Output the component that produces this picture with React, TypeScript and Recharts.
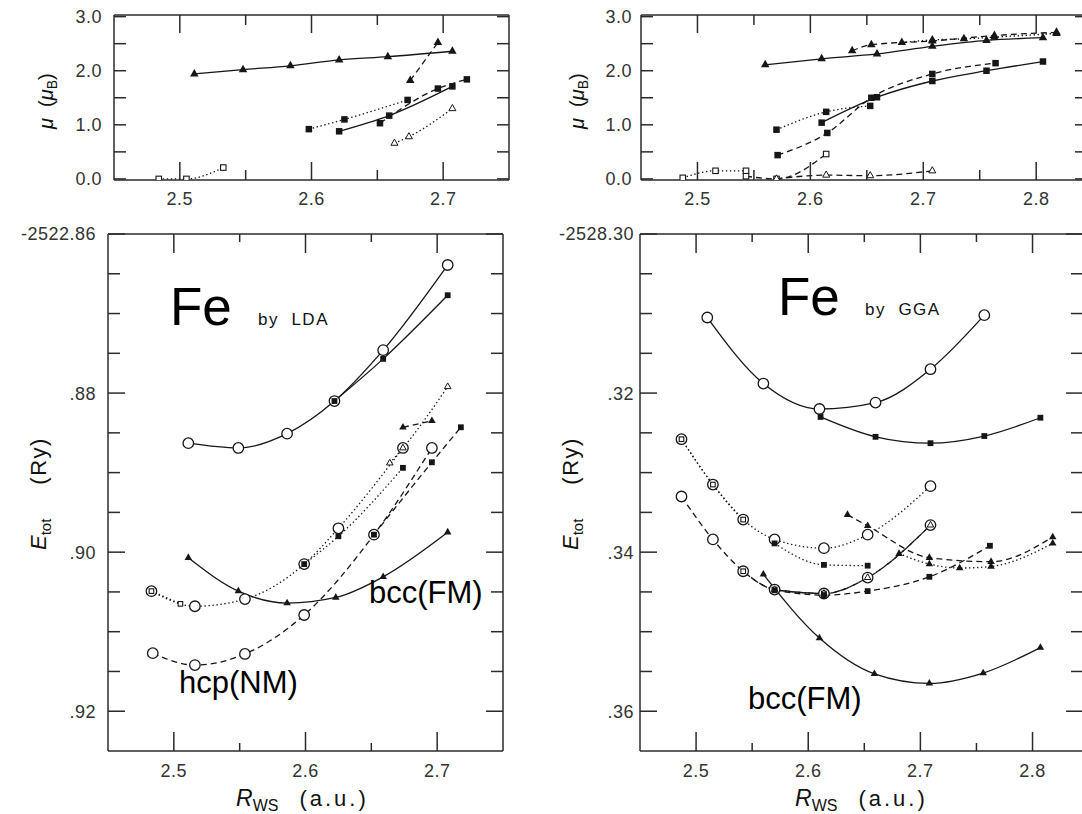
import React from 'react';
import { LineChart, Line, XAxis, YAxis } from 'recharts';

const FONT = '"Liberation Sans", Arial, Helvetica, sans-serif';
const INK = '#161616';
const FRAME = '#2b2b2b';
const TICK_TEXT = '#333';

type Pt = { x: number; y: number };
type MarkerKind = 'circle' | 'square' | 'triangle' | 'openTriangle' | 'openSquare';
type DashKind = 'solid' | 'dashed' | 'dotted';
type TickLabel = { v: number; t: string };

const pts = (rows: number[][]): Pt[] => rows.map(([x, y]) => ({ x, y }));

// ---------- axis ticks ----------
const xTicksLeft = [2.5, 2.55, 2.6, 2.65, 2.7];
const xTicksRight = [2.5, 2.55, 2.6, 2.65, 2.7, 2.75, 2.8];
const xTickLabels: TickLabel[] = [
  { v: 2.5, t: '2.5' },
  { v: 2.6, t: '2.6' },
  { v: 2.7, t: '2.7' },
  { v: 2.8, t: '2.8' },
];
const momentTicks = [0, 0.5, 1, 1.5, 2, 2.5, 3];
const momentTickLabels: TickLabel[] = [
  { v: 0, t: '0.0' },
  { v: 1, t: '1.0' },
  { v: 2, t: '2.0' },
  { v: 3, t: '3.0' },
];
const ldaEnergyTicks = [
  -2522.92, -2522.915, -2522.91, -2522.905, -2522.9, -2522.895, -2522.89,
  -2522.885, -2522.88, -2522.875, -2522.87, -2522.865, -2522.86,
];
const ldaEnergyTickLabels: TickLabel[] = [
  { v: -2522.86, t: '-2522.86' },
  { v: -2522.88, t: '.88' },
  { v: -2522.9, t: '.90' },
  { v: -2522.92, t: '.92' },
];
const ggaEnergyTicks = [
  -2528.36, -2528.355, -2528.35, -2528.345, -2528.34, -2528.335, -2528.33,
  -2528.325, -2528.32, -2528.315, -2528.31, -2528.305, -2528.3,
];
const ggaEnergyTickLabels: TickLabel[] = [
  { v: -2528.3, t: '-2528.30' },
  { v: -2528.32, t: '.32' },
  { v: -2528.34, t: '.34' },
  { v: -2528.36, t: '.36' },
];

// ---------- LDA: magnetic moment (μB) vs R_WS ----------
const ldaMomTriSolid = pts([[2.511, 1.94], [2.548, 2.02], [2.584, 2.09], [2.621, 2.2], [2.658, 2.26], [2.707, 2.36]]);
const ldaMomTriDashed = pts([[2.675, 1.82], [2.696, 2.52]]);
const ldaMomSqSolid = pts([[2.621, 0.88], [2.659, 1.17], [2.707, 1.71]]);
const ldaMomSqDashed = pts([[2.652, 1.03], [2.696, 1.67], [2.718, 1.84]]);
const ldaMomSqDotted = pts([[2.598, 0.92], [2.625, 1.1], [2.673, 1.46]]);
const ldaMomOpenTriDotted = pts([[2.663, 0.66], [2.674, 0.78], [2.707, 1.3]]);
const ldaMomOpenSqDotted = pts([[2.484, 0.0], [2.505, 0.0], [2.533, 0.21]]);

// ---------- GGA: magnetic moment (μB) vs R_WS ----------
const ggaMomTriSolid = pts([[2.56, 2.11], [2.61, 2.22], [2.659, 2.31], [2.708, 2.45], [2.756, 2.56], [2.806, 2.61]]);
const ggaMomTriDashed = pts([[2.637, 2.37], [2.654, 2.48], [2.708, 2.55], [2.763, 2.65], [2.818, 2.71]]);
const ggaMomTriDotted = pts([[2.681, 2.52], [2.708, 2.57], [2.736, 2.59], [2.763, 2.62], [2.818, 2.69]]);
const ggaMomSqSolid = pts([[2.61, 1.04], [2.659, 1.51], [2.708, 1.81], [2.756, 2.0], [2.806, 2.17]]);
const ggaMomSqDashed = pts([[2.571, 0.44], [2.615, 0.85], [2.654, 1.5], [2.708, 1.94], [2.764, 2.14]]);
const ggaMomSqDotted = pts([[2.57, 0.91], [2.614, 1.24], [2.653, 1.35]]);
const ggaMomOpenSqDotted = pts([[2.487, 0.02], [2.516, 0.15], [2.543, 0.15]]);
const ggaMomOpenSqDashed = pts([[2.543, 0.05], [2.57, 0.0], [2.614, 0.46]]);
const ggaMomOpenTriDashed = pts([[2.57, 0.0], [2.614, 0.07], [2.653, 0.06], [2.708, 0.15]]);

// ---------- LDA: total energy (Ry) vs R_WS ----------
const ldaEnCircSolid = pts([[2.511, -2522.8863], [2.549, -2522.8869], [2.586, -2522.8851], [2.622, -2522.881], [2.659, -2522.8746], [2.708, -2522.8639]]);
const ldaEnSqSolid = pts([[2.622, -2522.881], [2.659, -2522.8757], [2.708, -2522.8677]]);
const ldaEnTriSolid = pts([[2.511, -2522.9007], [2.549, -2522.9049], [2.586, -2522.9064], [2.623, -2522.9057], [2.659, -2522.9031], [2.708, -2522.8975]]);
const ldaEnCircDotted = pts([[2.483, -2522.9049], [2.516, -2522.9068], [2.554, -2522.9059], [2.599, -2522.9015], [2.625, -2522.897], [2.674, -2522.8869]]);
const ldaEnOpenSqDotted = pts([[2.483, -2522.9049], [2.505, -2522.9065]]);
const ldaEnSqDotted = pts([[2.599, -2522.9015], [2.625, -2522.898], [2.674, -2522.8894]]);
const ldaEnOpenTriDotted = pts([[2.664, -2522.8888], [2.674, -2522.8869], [2.708, -2522.8792]]);
const ldaEnCircDashed = pts([[2.484, -2522.9127], [2.516, -2522.9142], [2.554, -2522.9128], [2.599, -2522.9079], [2.652, -2522.8978], [2.696, -2522.8869]]);
const ldaEnSqDashed = pts([[2.652, -2522.8978], [2.696, -2522.8887], [2.718, -2522.8843]]);
const ldaEnTriDashed = pts([[2.674, -2522.8843], [2.696, -2522.8835]]);

// ---------- GGA: total energy (Ry) vs R_WS ----------
const ggaEnCircSolid = pts([[2.51, -2528.3105], [2.56, -2528.3188], [2.61, -2528.322], [2.66, -2528.3212], [2.709, -2528.317], [2.757, -2528.3102]]);
const ggaEnSqSolid = pts([[2.611, -2528.323], [2.66, -2528.3255], [2.709, -2528.3263], [2.757, -2528.3254], [2.807, -2528.3231]]);
const ggaEnTriSolid = pts([[2.56, -2528.3428], [2.61, -2528.3508], [2.659, -2528.3553], [2.708, -2528.3565], [2.756, -2528.3552], [2.807, -2528.352]]);
const ggaEnCircDotted = pts([[2.487, -2528.3258], [2.515, -2528.3315], [2.542, -2528.3359], [2.57, -2528.3384], [2.614, -2528.3395], [2.653, -2528.3378], [2.709, -2528.3317]]);
const ggaEnOpenSqDotted = pts([[2.487, -2528.3258], [2.515, -2528.3315], [2.542, -2528.3359]]);
const ggaEnSqDotted = pts([[2.57, -2528.3389], [2.614, -2528.3416], [2.653, -2528.3417]]);
const ggaEnCircDashed = pts([[2.487, -2528.333], [2.515, -2528.3384], [2.542, -2528.3424], [2.57, -2528.3447], [2.614, -2528.3452], [2.653, -2528.3432], [2.709, -2528.3366]]);
const ggaEnOpenSqDashed = pts([[2.542, -2528.3424], [2.57, -2528.3447], [2.614, -2528.3452]]);
const ggaEnOpenTriDashed = pts([[2.57, -2528.3447], [2.614, -2528.3452], [2.653, -2528.3432], [2.709, -2528.3366]]);
const ggaEnSqDashed = pts([[2.57, -2528.3448], [2.614, -2528.3454], [2.653, -2528.3449], [2.708, -2528.3431], [2.762, -2528.3392]]);
const ggaEnTriDashed = pts([[2.635, -2528.3353], [2.653, -2528.3367], [2.708, -2528.3407], [2.763, -2528.3412], [2.818, -2528.3381]]);
const ggaEnTriDotted = pts([[2.681, -2528.3402], [2.708, -2528.3415], [2.735, -2528.342], [2.763, -2528.3418], [2.818, -2528.3389]]);

interface SeriesDef {
  data: Pt[];
  marker: MarkerKind;
  dash: DashKind;
}

const ldaMomentSeries: SeriesDef[] = [
  { data: ldaMomTriSolid, marker: 'triangle', dash: 'solid' },
  { data: ldaMomTriDashed, marker: 'triangle', dash: 'dashed' },
  { data: ldaMomSqSolid, marker: 'square', dash: 'solid' },
  { data: ldaMomSqDashed, marker: 'square', dash: 'dashed' },
  { data: ldaMomSqDotted, marker: 'square', dash: 'dotted' },
  { data: ldaMomOpenTriDotted, marker: 'openTriangle', dash: 'dotted' },
  { data: ldaMomOpenSqDotted, marker: 'openSquare', dash: 'dotted' },
];

const ggaMomentSeries: SeriesDef[] = [
  { data: ggaMomTriSolid, marker: 'triangle', dash: 'solid' },
  { data: ggaMomTriDashed, marker: 'triangle', dash: 'dashed' },
  { data: ggaMomTriDotted, marker: 'triangle', dash: 'dotted' },
  { data: ggaMomSqSolid, marker: 'square', dash: 'solid' },
  { data: ggaMomSqDashed, marker: 'square', dash: 'dashed' },
  { data: ggaMomSqDotted, marker: 'square', dash: 'dotted' },
  { data: ggaMomOpenSqDotted, marker: 'openSquare', dash: 'dotted' },
  { data: ggaMomOpenSqDashed, marker: 'openSquare', dash: 'dashed' },
  { data: ggaMomOpenTriDashed, marker: 'openTriangle', dash: 'dashed' },
];

// circles first so the filled symbols sitting on them stay visible
const ldaEnergySeries: SeriesDef[] = [
  { data: ldaEnCircSolid, marker: 'circle', dash: 'solid' },
  { data: ldaEnCircDotted, marker: 'circle', dash: 'dotted' },
  { data: ldaEnCircDashed, marker: 'circle', dash: 'dashed' },
  { data: ldaEnSqSolid, marker: 'square', dash: 'solid' },
  { data: ldaEnTriSolid, marker: 'triangle', dash: 'solid' },
  { data: ldaEnSqDotted, marker: 'square', dash: 'dotted' },
  { data: ldaEnOpenSqDotted, marker: 'openSquare', dash: 'dotted' },
  { data: ldaEnOpenTriDotted, marker: 'openTriangle', dash: 'dotted' },
  { data: ldaEnSqDashed, marker: 'square', dash: 'dashed' },
  { data: ldaEnTriDashed, marker: 'triangle', dash: 'dashed' },
];

const ggaEnergySeries: SeriesDef[] = [
  { data: ggaEnCircSolid, marker: 'circle', dash: 'solid' },
  { data: ggaEnCircDotted, marker: 'circle', dash: 'dotted' },
  { data: ggaEnCircDashed, marker: 'circle', dash: 'dashed' },
  { data: ggaEnSqSolid, marker: 'square', dash: 'solid' },
  { data: ggaEnTriSolid, marker: 'triangle', dash: 'solid' },
  { data: ggaEnOpenSqDotted, marker: 'openSquare', dash: 'dotted' },
  { data: ggaEnSqDotted, marker: 'square', dash: 'dotted' },
  { data: ggaEnOpenSqDashed, marker: 'openSquare', dash: 'dashed' },
  { data: ggaEnOpenTriDashed, marker: 'openTriangle', dash: 'dashed' },
  { data: ggaEnSqDashed, marker: 'square', dash: 'dashed' },
  { data: ggaEnTriDashed, marker: 'triangle', dash: 'dashed' },
  { data: ggaEnTriDotted, marker: 'triangle', dash: 'dotted' },
];

const DASH: Record<DashKind, string | undefined> = {
  solid: undefined,
  dashed: '6 4',
  dotted: '1.4 2.6',
};

const topSizes: Record<MarkerKind, number> = {
  circle: 10,
  square: 6.5,
  triangle: 8.5,
  openTriangle: 7,
  openSquare: 5.5,
};
const bottomSizes: Record<MarkerKind, number> = {
  circle: 10.5,
  square: 5.8,
  triangle: 7.5,
  openTriangle: 6.5,
  openSquare: 4.6,
};

function Marker({ kind, cx, cy, size }: { kind: MarkerKind; cx: number; cy: number; size: number }) {
  if (cx == null || cy == null) return null;
  const h = size / 2;
  switch (kind) {
    case 'circle':
      return <circle cx={cx} cy={cy} r={h} fill="#fff" stroke={INK} strokeWidth={1.3} />;
    case 'square':
      return <rect x={cx - h} y={cy - h} width={size} height={size} fill={INK} />;
    case 'openSquare':
      return <rect x={cx - h} y={cy - h} width={size} height={size} fill="#fff" stroke={INK} strokeWidth={1.1} />;
    case 'triangle':
    case 'openTriangle': {
      const th = size * 0.88;
      const d = `M${cx},${cy - (th * 2) / 3} L${cx - h},${cy + th / 3} L${cx + h},${cy + th / 3} Z`;
      return kind === 'triangle' ? (
        <path d={d} fill={INK} />
      ) : (
        <path d={d} fill="#fff" stroke={INK} strokeWidth={1} />
      );
    }
    default:
      return null;
  }
}

const findLabel = (labels: TickLabel[], v: number) => labels.find((l) => Math.abs(l.v - v) < 1e-6);

interface TickStyle {
  xMajor: number;
  xMinor: number;
  yMajor: number;
  yMinor: number;
  xBase: number;
  yGap: number;
}

interface PanelProps {
  frame: { x: number; y: number; w: number; h: number };
  box: { l: number; t: number; r: number; b: number };
  xDomain: [number, number];
  yDomain: [number, number];
  xTicks: number[];
  yTicks: number[];
  xLabels: TickLabel[];
  yLabels: TickLabel[];
  series: SeriesDef[];
  tick: TickStyle;
  sizes: Record<MarkerKind, number>;
}

const tickTextStyle: React.CSSProperties = {
  fontFamily: FONT,
  fontSize: 18,
  letterSpacing: 0.5,
  fill: TICK_TEXT,
};

function Panel({ frame, box, xDomain, yDomain, xTicks, yTicks, xLabels, yLabels, series, tick, sizes }: PanelProps) {
  const pl = box.l - frame.x;
  const pt = box.t - frame.y;
  const pr = box.r - frame.x;
  const pb = box.b - frame.y;
  const margin = { left: pl - 1, top: pt - 1, right: frame.w - pr - 1, bottom: frame.h - pb - 1 };
  const line = { stroke: FRAME, strokeWidth: 1.5 };

  const bottomTick = (p: any) => {
    const lab = findLabel(xLabels, p.payload.value);
    const len = lab ? tick.xMajor : tick.xMinor;
    return (
      <g>
        <line x1={p.x} x2={p.x} y1={pb} y2={pb - len} {...line} />
        {lab && (
          <text x={p.x} y={pb + tick.xBase} textAnchor="middle" style={tickTextStyle}>
            {lab.t}
          </text>
        )}
      </g>
    );
  };
  const topTick = (p: any) => {
    const len = findLabel(xLabels, p.payload.value) ? tick.xMajor : tick.xMinor;
    return <line x1={p.x} x2={p.x} y1={pt} y2={pt + len} {...line} />;
  };
  const leftTick = (p: any) => {
    const lab = findLabel(yLabels, p.payload.value);
    const len = lab ? tick.yMajor : tick.yMinor;
    return (
      <g>
        <line x1={pl} x2={pl + len} y1={p.y} y2={p.y} {...line} />
        {lab && (
          <text x={pl - tick.yGap} y={p.y} dy="0.36em" textAnchor="end" style={tickTextStyle}>
            {lab.t}
          </text>
        )}
      </g>
    );
  };
  const rightTick = (p: any) => {
    const len = findLabel(yLabels, p.payload.value) ? tick.yMajor : tick.yMinor;
    return <line x1={pr} x2={pr - len} y1={p.y} y2={p.y} {...line} />;
  };

  return (
    <div style={{ position: 'absolute', left: frame.x, top: frame.y }}>
      <LineChart width={frame.w} height={frame.h} margin={margin}>
        <XAxis
          xAxisId="b"
          type="number"
          dataKey="x"
          domain={xDomain}
          ticks={xTicks}
          allowDataOverflow
          interval={0}
          height={1}
          tickSize={0}
          tickLine={false}
          axisLine={line}
          tick={bottomTick}
        />
        <XAxis
          xAxisId="t"
          orientation="top"
          type="number"
          dataKey="x"
          domain={xDomain}
          ticks={xTicks}
          allowDataOverflow
          interval={0}
          height={1}
          tickSize={0}
          tickLine={false}
          axisLine={line}
          tick={topTick}
        />
        <YAxis
          yAxisId="l"
          type="number"
          domain={yDomain}
          ticks={yTicks}
          allowDataOverflow
          interval={0}
          width={1}
          tickSize={0}
          tickLine={false}
          axisLine={line}
          tick={leftTick}
        />
        <YAxis
          yAxisId="r"
          orientation="right"
          type="number"
          domain={yDomain}
          ticks={yTicks}
          allowDataOverflow
          interval={0}
          width={1}
          tickSize={0}
          tickLine={false}
          axisLine={line}
          tick={rightTick}
        />
        {series.map((s, i) => (
          <Line
            key={i}
            xAxisId="b"
            yAxisId="l"
            data={s.data}
            dataKey="y"
            type="monotone"
            stroke={INK}
            strokeWidth={1.3}
            strokeDasharray={DASH[s.dash]}
            isAnimationActive={false}
            activeDot={false}
            dot={(p: any) => (
              <Marker key={`m-${i}-${p.index}`} kind={s.marker} cx={p.cx} cy={p.cy} size={sizes[s.marker]} />
            )}
          />
        ))}
      </LineChart>
    </div>
  );
}

const topTickStyle: TickStyle = { xMajor: 18, xMinor: 10, yMajor: 12, yMinor: 12, xBase: 24.5, yGap: 12 };
const bottomTickStyle: TickStyle = { xMajor: 19, xMinor: 8, yMajor: 17, yMinor: 12, xBase: 26, yGap: 12 };

function Annotations() {
  const base = { fontFamily: FONT, fill: '#111' } as React.CSSProperties;
  const nb = '\u00a0';
  return (
    <svg width={1082} height={814} style={{ position: 'absolute', left: 0, top: 0, pointerEvents: 'none' }}>
      {/* moment axis titles */}
      <text x={53} y={129} transform="rotate(-90 53 129)" style={{ ...base, fontSize: 20 }}>
        <tspan fontStyle="italic">μ</tspan>
        <tspan>{`${nb}${nb}(`}</tspan>
        <tspan fontStyle="italic">μ</tspan>
        <tspan fontSize={14} dy={4}>B</tspan>
        <tspan dy={-4}>)</tspan>
      </text>
      <text x={584} y={129} transform="rotate(-90 584 129)" style={{ ...base, fontSize: 20 }}>
        <tspan fontStyle="italic">μ</tspan>
        <tspan>{`${nb}${nb}(`}</tspan>
        <tspan fontStyle="italic">μ</tspan>
        <tspan fontSize={14} dy={4}>B</tspan>
        <tspan dy={-4}>)</tspan>
      </text>

      {/* energy axis titles */}
      {[46, 578].map((x0) => (
        <text key={x0} x={x0} y={550} transform={`rotate(-90 ${x0} 550)`} style={{ ...base, fontSize: 22 }}>
          <tspan fontStyle="italic">E</tspan>
          <tspan fontSize={15} dy={5}>tot</tspan>
          <tspan dy={-5} dx={34} letterSpacing={1.5}>(Ry)</tspan>
        </text>
      ))}

      {/* R_WS axis titles */}
      {[236, 795].map((x0) => (
        <text key={x0} x={x0} y={806} style={{ ...base, fontSize: 23 }}>
          <tspan fontStyle="italic">R</tspan>
          <tspan fontSize={16} dy={5}>WS</tspan>
          <tspan dy={-5} dx={21} fontSize={22} letterSpacing={3}>(a.u.)</tspan>
        </text>
      ))}

      {/* panel titles */}
      <text x={170} y={325} style={{ ...base, fontSize: 53, fill: '#000' }}>Fe</text>
      <text x={258} y={325} style={{ ...base, fontSize: 17, letterSpacing: 1.5 }}>{`by${nb}${nb}LDA`}</text>
      <text x={778} y={315} style={{ ...base, fontSize: 53, fill: '#000' }}>Fe</text>
      <text x={865} y={315} style={{ ...base, fontSize: 17, letterSpacing: 1.5 }}>{`by${nb}${nb}GGA`}</text>

      {/* phase labels */}
      <text x={369} y={603} style={{ ...base, fontSize: 31, fill: '#000' }}>bcc(FM)</text>
      <text x={179} y={693} style={{ ...base, fontSize: 31, fill: '#000' }}>hcp(NM)</text>
      <text x={748} y={709} style={{ ...base, fontSize: 31, fill: '#000' }}>bcc(FM)</text>
    </svg>
  );
}

export default function App() {
  return (
    <div
      style={{
        position: 'absolute',
        left: 0,
        top: 0,
        width: 1082,
        height: 814,
        overflow: 'hidden',
        background: '#fff',
      }}
    >
      <Panel
        frame={{ x: 0, y: 0, w: 540, h: 225 }}
        box={{ l: 114, t: 15, r: 509, b: 180 }}
        xDomain={[2.45, 2.75]}
        yDomain={[-0.02, 3.03]}
        xTicks={xTicksLeft}
        yTicks={momentTicks}
        xLabels={xTickLabels}
        yLabels={momentTickLabels}
        series={ldaMomentSeries}
        tick={topTickStyle}
        sizes={topSizes}
      />
      <Panel
        frame={{ x: 540, y: 0, w: 600, h: 225 }}
        box={{ l: 641, t: 15, r: 1087, b: 180 }}
        xDomain={[2.45, 2.845]}
        yDomain={[-0.02, 3.03]}
        xTicks={xTicksRight}
        yTicks={momentTicks}
        xLabels={xTickLabels}
        yLabels={momentTickLabels}
        series={ggaMomentSeries}
        tick={{ ...topTickStyle, yGap: 9 }}
        sizes={topSizes}
      />
      <Panel
        frame={{ x: 0, y: 225, w: 540, h: 589 }}
        box={{ l: 108, t: 234, r: 503, b: 751 }}
        xDomain={[2.45, 2.75]}
        yDomain={[-2522.925, -2522.86]}
        xTicks={xTicksLeft}
        yTicks={ldaEnergyTicks}
        xLabels={xTickLabels}
        yLabels={ldaEnergyTickLabels}
        series={ldaEnergySeries}
        tick={bottomTickStyle}
        sizes={bottomSizes}
      />
      <Panel
        frame={{ x: 540, y: 225, w: 600, h: 589 }}
        box={{ l: 640, t: 234, r: 1083, b: 751 }}
        xDomain={[2.45, 2.845]}
        yDomain={[-2528.365, -2528.3]}
        xTicks={xTicksRight}
        yTicks={ggaEnergyTicks}
        xLabels={xTickLabels}
        yLabels={ggaEnergyTickLabels}
        series={ggaEnergySeries}
        tick={{ ...bottomTickStyle, yGap: 6 }}
        sizes={bottomSizes}
      />
      <Annotations />
    </div>
  );
}
